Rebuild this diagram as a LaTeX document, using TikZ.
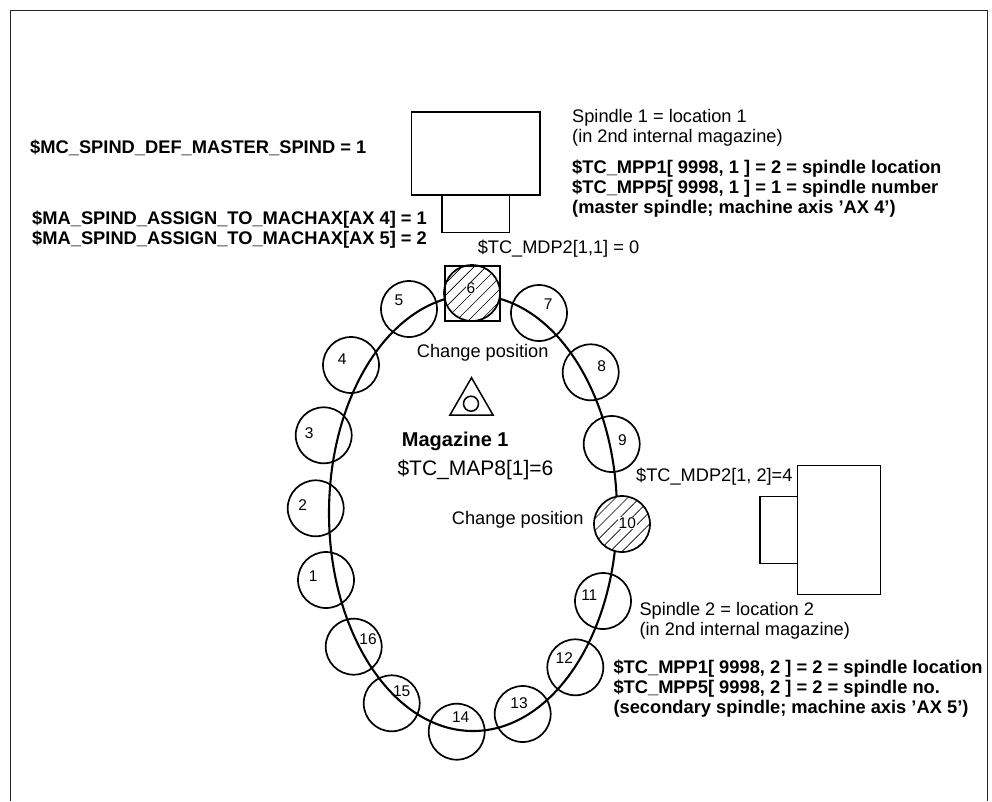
\documentclass[tikz,border=0pt]{standalone}
\usepackage{fontspec}
\setmainfont{Liberation Sans}
\usetikzlibrary{positioning,shapes.geometric,patterns.meta}

\begin{document}
\begin{tikzpicture}[x=1pt, y=-1pt,
      loc/.style={draw=black, circle, line width=1.7pt, inner sep=0pt, outer sep=0pt, minimum size=56pt},
      hatched/.style={loc, preaction={fill=white},
        pattern={Lines[angle=45,distance=8.5pt,line width=.6pt]}},
      num/.style={inner sep=.6pt, font=\fontsize{15.5}{16}\selectfont},
      hatchnum/.style={num, fill=white},
      unit/.style={draw=black, line width=1.3pt, inner sep=0pt, outer sep=0pt},
      txt/.style={anchor=west, align=left, inner sep=0pt, font=\fontsize{18.2}{20}\selectfont},
      boldtxt/.style={txt, font=\fontsize{18.3}{20}\selectfont\bfseries}
    ]
      \useasboundingbox (0,0) rectangle (992,801);
      \draw[line width=1pt, draw=black!85] (10.5,801) -- (10.5,10) -- (987.5,10) -- (987.5,801);

      \node[draw=black, ellipse, line width=2.1pt, inner sep=0pt, minimum width=288pt, minimum height=436pt] (track) at (473,513) {};

      \node[loc] (loc1) at (326,580) {};
      \node[loc] (loc2) at (315.7,508.3) {};
      \node[loc] (loc3) at (323.7,435.3) {};
      \node[loc] (loc4) at (351,365) {};
      \node[loc] (loc5) at (409,309) {};
      \node[hatched] (loc6) at (472,293) {};
      \node[loc] (loc7) at (539,313) {};
      \node[loc] (loc8) at (590.7,372.3) {};
      \node[loc] (loc9) at (611.7,444) {};
      \node[hatched] (loc10) at (622,524) {};
      \node[loc] (loc11) at (603,601) {};
      \node[loc] (loc12) at (575.3,667.3) {};
      \node[loc] (loc13) at (522.7,714) {};
      \node[loc] (loc14) at (456.7,731.7) {};
      \node[loc] (loc15) at (391.7,703.3) {};
      \node[loc] (loc16) at (353.7,646.7) {};

      \node[num] (num1) at (313.3,576) {1};
      \node[num] (num2) at (302.7,505) {2};
      \node[num] (num3) at (309.3,433) {3};
      \node[num] (num4) at (342.3,359.5) {4};
      \node[num] (num5) at (399,300.5) {5};
      \node[hatchnum] (num6) at (471,288) {6};
      \node[num] (num7) at (548.3,304) {7};
      \node[num] (num8) at (601.7,366) {8};
      \node[num] (num9) at (622.3,440) {9};
      \node[hatchnum] (num10) at (627.3,523) {10};
      \node[num] (num11) at (589.3,595) {11};
      \node[num] (num12) at (564.3,658) {12};
      \node[num] (num13) at (519,703) {13};
      \node[num] (num14) at (460.7,717) {14};
      \node[num] (num15) at (401.7,691.5) {15};
      \node[num] (num16) at (368,639) {16};

      \node[unit, minimum size=55pt] (changesq) at (472.4,293.4) {};

      \node[unit, minimum width=128.5pt, minimum height=83pt] (spindleA) at (475.75,153.5) {};
      \node[unit, minimum width=67.4pt, minimum height=37.3pt, below=0pt of spindleA] (noseA) {};
      \node[unit, minimum width=82.6pt, minimum height=128.6pt] (spindleB) at (839,530) {};
      \node[unit, minimum width=37.7pt, minimum height=67.3pt, left=0pt of spindleB] (noseB) {};

      \node[draw=black, regular polygon, regular polygon sides=3, line width=1.5pt, inner sep=0pt, minimum size=50pt] (tri) at (471.5,402.7) {};
      \node[draw=black, circle, line width=1.5pt, inner sep=0pt, minimum size=15pt] (triO) at (471,403.7) {};

      \node[boldtxt] (mcdef) at (30,148) {\$MC\_SPIND\_DEF\_MASTER\_SPIND = 1};
      \node[boldtxt] (maassign) at (32,230) {\$MA\_SPIND\_ASSIGN\_TO\_MACHAX[AX 4] = 1\\\$MA\_SPIND\_ASSIGN\_TO\_MACHAX[AX 5] = 2};
      \node[txt] (spAtxt) at (572,128) {Spindle 1 = location 1\\(in 2nd internal magazine)};
      \node[boldtxt] (spAbold) at (572,189) {\$TC\_MPP1[ 9998, 1 ] = 2 = spindle location\\\$TC\_MPP5[ 9998, 1 ] = 1 = spindle number\\(master spindle; machine axis ’AX 4’)};
      \node[txt] (mdpA) at (477.6,249) {\$TC\_MDP2[1,1] = 0};
      \node[txt] (changeA) at (416.7,352.7) {Change position};
      \node[boldtxt, font=\fontsize{20}{22}\selectfont\bfseries] (mag) at (401.7,441) {Magazine 1};
      \node[txt, font=\fontsize{21}{22}\selectfont] (map) at (397.3,470.3) {\$TC\_MAP8[1]=6};
      \node[txt] (changeB) at (451.7,520) {Change position};
      \node[txt] (mdpB) at (636,477) {\$TC\_MDP2[1, 2]=4};
      \node[txt] (spBtxt) at (639.3,620.6) {Spindle 2 = location 2\\(in 2nd internal magazine)};
      \node[boldtxt] (spBbold) at (613.3,689) {\$TC\_MPP1[ 9998, 2 ] = 2 = spindle location\\\$TC\_MPP5[ 9998, 2 ] = 2 = spindle no.\\(secondary spindle; machine axis ’AX 5’)};
    \end{tikzpicture}
\end{document}
